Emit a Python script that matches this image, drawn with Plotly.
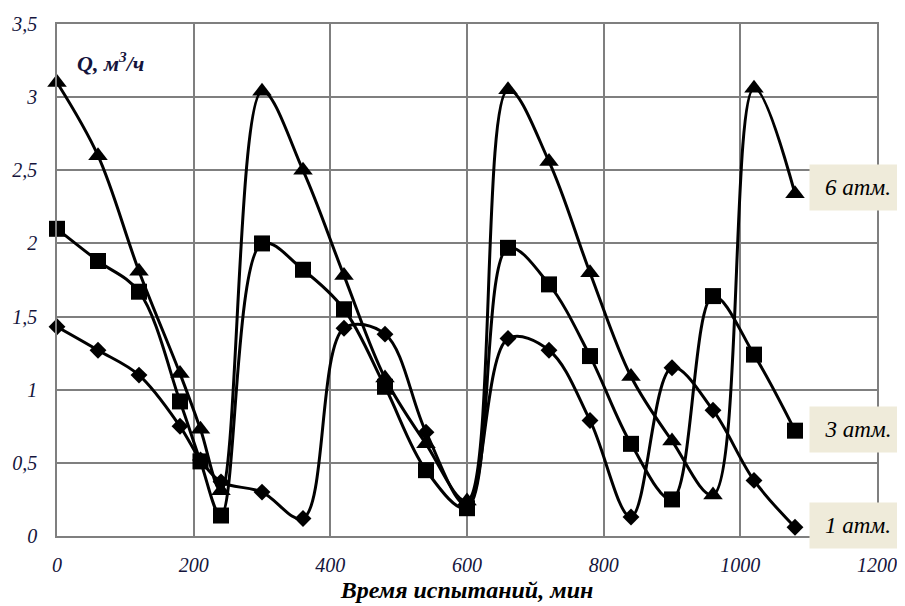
import plotly.graph_objects as go

time_min = [0, 60, 120, 180, 210, 240, 300, 360, 420, 480, 540, 600,
            660, 720, 780, 840, 900, 960, 1020, 1080]

q_6atm = [3.10, 2.60, 1.81, 1.11, 0.73, 0.31, 3.04, 2.50, 1.78, 1.08, 0.63, 0.24,
          3.05, 2.56, 1.80, 1.09, 0.65, 0.28, 3.06, 2.34]
q_3atm = [2.10, 1.88, 1.67, 0.92, 0.51, 0.14, 2.00, 1.82, 1.55, 1.02, 0.45, 0.19,
          1.97, 1.72, 1.23, 0.63, 0.25, 1.64, 1.24, 0.72]
q_1atm = [1.43, 1.27, 1.10, 0.75, 0.52, 0.37, 0.30, 0.12, 1.42, 1.38, 0.71, 0.21,
          1.35, 1.27, 0.79, 0.13, 1.15, 0.86, 0.38, 0.06]

series_labels = ["6 атм.", "3 атм.", "1 атм."]
label_y = [2.38, 0.73, 0.075]

x_ticks = [0, 200, 400, 600, 800, 1000, 1200]
y_ticks = [0, 0.5, 1, 1.5, 2, 2.5, 3, 3.5]

serif = "Liberation Serif"
txt_col = "#14143c"
grid_col = "#7f7f7f"

fig = go.Figure()

specs = [
    (q_6atm, "triangle-up", 17),
    (q_3atm, "square", 16),
    (q_1atm, "diamond", 13),
]
for (vals, sym, sz), name in zip(specs, series_labels):
    fig.add_trace(go.Scatter(
        x=time_min, y=vals, name=name, mode="lines+markers",
        line=dict(color="black", width=3, shape="spline", smoothing=1.0),
        marker=dict(symbol=sym, size=sz, color="black"),
        cliponaxis=False, showlegend=False,
    ))

for name, yv in zip(series_labels, label_y):
    fig.add_annotation(
        x=1100, y=yv, xref="x", yref="y", xanchor="left", yanchor="middle",
        text=f"<i>{name}</i>", showarrow=False,
        font=dict(family=serif, size=23, color="black"),
        bgcolor="#efebda", width=92, height=41, borderpad=2, align="center",
    )

fig.add_annotation(
    x=0.022, y=0.926, xref="paper", yref="paper", xanchor="left", yanchor="middle",
    text="<b><i>Q, м<sup>3</sup>/ч</i></b>", showarrow=False,
    font=dict(family=serif, size=22, color=txt_col),
)

fig.update_layout(
    width=897, height=598,
    margin=dict(l=49, r=28, t=16, b=70, autoexpand=False),
    paper_bgcolor="white", plot_bgcolor="white",
    separators=", ",
    font=dict(family=serif, color=txt_col),
    xaxis=dict(
        range=[0, 1200], tickvals=x_ticks, automargin=False,
        ticktext=[f"<i>{v}</i>" for v in x_ticks],
        showgrid=True, gridcolor=grid_col, gridwidth=1.5,
        showline=True, linecolor=grid_col, linewidth=1.5, mirror=True,
        ticks="", zeroline=False, ticklabelstandoff=10,
        tickfont=dict(family=serif, size=20, color=txt_col),
        title=dict(text="<b><i>Время испытаний, мин</i></b>",
                   font=dict(family=serif, size=24, color="black"), standoff=6),
    ),
    yaxis=dict(
        range=[0, 3.5], tickvals=y_ticks, automargin=False,
        ticktext=[f"<i>{str(v).replace('.', ',')}</i>" if v % 1 else f"<i>{int(v)}</i>" for v in y_ticks],
        showgrid=True, gridcolor=grid_col, gridwidth=1.5,
        showline=True, linecolor=grid_col, linewidth=1.5, mirror=True,
        ticks="", zeroline=False, ticklabelstandoff=14,
        tickfont=dict(family=serif, size=20, color=txt_col),
    ),
)

fig.write_html("out.html")
